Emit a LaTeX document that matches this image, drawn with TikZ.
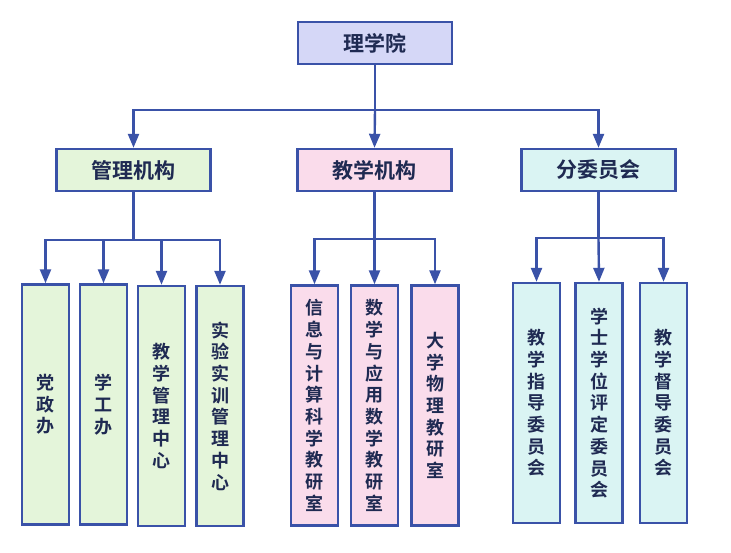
\documentclass[tikz,border=0pt]{standalone}
\usepackage{fontspec}
\newfontfamily\cjk{Noto Sans CJK SC}[BoldFont={Noto Sans CJK SC Bold}]
\usetikzlibrary{arrows.meta}
\definecolor{edge}{HTML}{3A52A8}
\definecolor{txt}{HTML}{1F2A52}
\definecolor{rootfill}{HTML}{D5D7F7}
\definecolor{gfill}{HTML}{E4F5DA}
\definecolor{pfill}{HTML}{FADCEB}
\definecolor{cfill}{HTML}{DAF4F3}
\begin{document}
\begin{tikzpicture}[x=1pt,y=-1pt,
  box/.style={draw=edge, line width=2.4pt, inner sep=0pt, text=txt},
  topbox/.style={box, minimum width=154pt, minimum height=42pt, font=\cjk\bfseries\fontsize{21}{25}\selectfont},
  colbox/.style={box, minimum width=47pt, minimum height=240pt, align=center, font=\cjk\bfseries\fontsize{18}{21.7}\selectfont},
  link/.style={draw=edge, line width=2.4pt},
  arr/.style={link, -{Triangle[width=11pt,length=14pt]}}]
\useasboundingbox (0,0) rectangle (731,552);

\node[topbox, fill=rootfill] (root) at (375,43) {理学院};
\node[topbox, fill=gfill] (m) at (133.5,170) {管理机构};
\node[topbox, fill=pfill] (t) at (374.5,170) {教学机构};
\node[topbox, fill=cfill] (f) at (598.5,170) {分委员会};

\node[colbox, fill=gfill] (m1) at (45.5,404.5) {党\\政\\办};
\node[colbox, fill=gfill] (m2) at (103.5,404.5) {学\\工\\办};
\node[colbox, fill=gfill] (m3) at (161.5,406) {教\\学\\管\\理\\中\\心};
\node[colbox, fill=gfill] (m4) at (220,406) {实\\验\\实\\训\\管\\理\\中\\心};

\node[colbox, fill=pfill] (t1) at (314.5,405.5) {信\\息\\与\\计\\算\\科\\学\\教\\研\\室};
\node[colbox, fill=pfill] (t2) at (374.5,405.5) {数\\学\\与\\应\\用\\数\\学\\教\\研\\室};
\node[colbox, fill=pfill] (t3) at (435,405.5) {大\\学\\物\\理\\教\\研\\室};

\node[colbox, fill=cfill] (f1) at (536.5,403) {教\\学\\指\\导\\委\\员\\会};
\node[colbox, fill=cfill] (f2) at (599,403) {学\\士\\学\\位\\评\\定\\委\\员\\会};
\node[colbox, fill=cfill] (f3) at (663.5,403) {教\\学\\督\\导\\委\\员\\会};

% level 1
\coordinate (rj) at (root.south |- 0,110);
\draw[link] (root.south) -- (rj);
\draw[arr] (rj) -| (m.north);
\draw[arr] (rj) -- (t.north);
\draw[arr] (rj) -| (f.north);

% 管理机构
\coordinate (mj) at (m.south |- 0,240);
\draw[link] (m.south) -- (mj);
\draw[arr] (mj) -| (m1.north);
\draw[arr] (mj) -| (m2.north);
\draw[arr] (mj) -| (m3.north);
\draw[arr] (mj) -| (m4.north);

% 教学机构
\coordinate (tj) at (t.south |- 0,239);
\draw[link] (t.south) -- (tj);
\draw[arr] (tj) -| (t1.north);
\draw[arr] (tj) -- (t2.north);
\draw[arr] (tj) -| (t3.north);

% 分委员会
\coordinate (fj) at (f.south |- 0,238);
\draw[link] (f.south) -- (fj);
\draw[arr] (fj) -| (f1.north);
\draw[arr] (fj) -- (f2.north);
\draw[arr] (fj) -| (f3.north);
\end{tikzpicture}
\end{document}
